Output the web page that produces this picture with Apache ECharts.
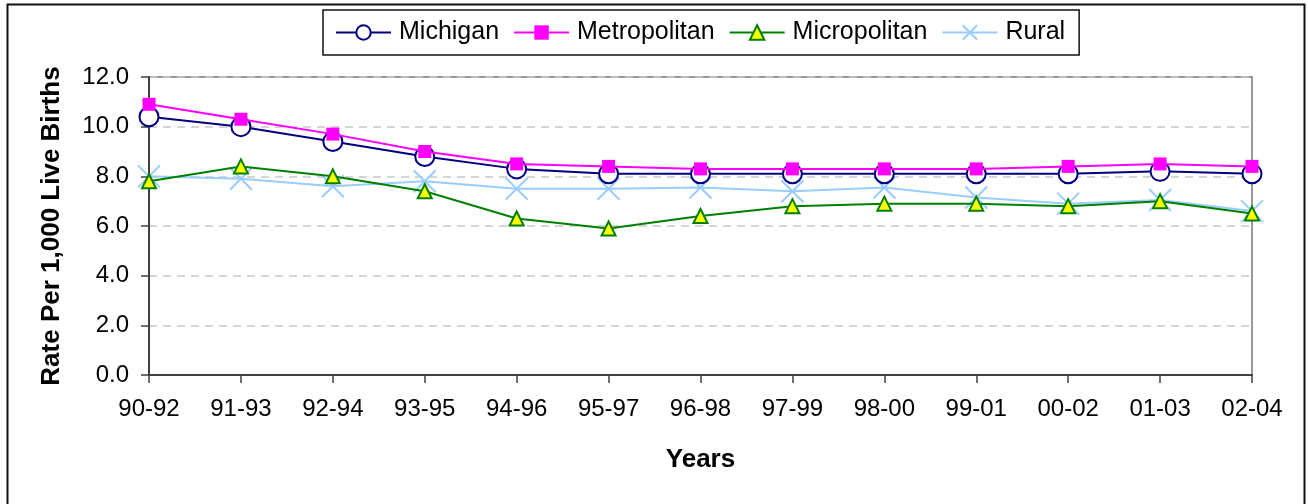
<!DOCTYPE html>
<html>
<head>
<meta charset="utf-8">
<script src="https://cdn.jsdelivr.net/npm/echarts@6/dist/echarts.min.js"></script>
<style>
html,body{margin:0;padding:0;background:#fff;}
#chart{width:1308px;height:504px;}
</style>
</head>
<body>
<div id="chart"></div>
<script>
var categories = ['90-92','91-93','92-94','93-95','94-96','95-97','96-98','97-99','98-00','99-01','00-02','01-03','02-04'];
var michigan     = [10.4, 10.0, 9.4, 8.8, 8.3, 8.1, 8.1, 8.1, 8.1, 8.1, 8.1, 8.2, 8.1];
var metropolitan = [10.9, 10.3, 9.7, 9.0, 8.5, 8.4, 8.3, 8.3, 8.3, 8.3, 8.4, 8.5, 8.4];
var micropolitan = [7.8, 8.4, 8.0, 7.4, 6.3, 5.9, 6.4, 6.8, 6.9, 6.9, 6.8, 7.0, 6.5];
var rural        = [8.0, 7.9, 7.6, 7.8, 7.5, 7.5, 7.55, 7.4, 7.55, 7.15, 6.9, 7.05, 6.6];
var yTicks = { min: 0, max: 12, interval: 2 };

var chart = echarts.init(document.getElementById('chart'), null, {renderer: 'canvas'});
var font = 'Liberation Sans, Arial, sans-serif';
var crossPath = 'path://M0,0L10,10M10,0L0,10';

chart.setOption({
  animation: false,
  backgroundColor: '#fff',
  graphic: [{
    type: 'rect',
    shape: {x: 7.5, y: 4.5, width: 1297, height: 520},
    style: {fill: 'none', stroke: '#111', lineWidth: 2},
    silent: true, z: 0
  }],
  legend: {
    top: 10, left: 323,
    padding: [10, 14, 10, 12],
    borderColor: '#111', borderWidth: 1.5,
    itemWidth: 55, itemHeight: 18, itemGap: 14,
    textStyle: {fontFamily: font, fontSize: 25, color: '#000', padding: [0, 0, 0, 3]},
    data: ['Michigan','Metropolitan','Micropolitan','Rural']
  },
  grid: {
    left: 149, right: 56, top: 77, bottom: 129,
    show: true, borderColor: '#999', borderWidth: 2, backgroundColor: 'transparent'
  },
  xAxis: {
    type: 'category', data: categories, boundaryGap: false,
    name: 'Years', nameLocation: 'middle', nameGap: 72,
    nameTextStyle: {fontFamily: font, fontSize: 26, fontWeight: 'bold', color: '#000'},
    axisLine: {lineStyle: {color: '#404040', width: 2}},
    axisTick: {show: true, length: 8, inside: false, lineStyle: {color: '#404040', width: 1.5}},
    axisLabel: {fontFamily: font, fontSize: 24, color: '#000', margin: 22, interval: 0},
    splitLine: {show: false}
  },
  yAxis: {
    type: 'value', min: yTicks.min, max: yTicks.max, interval: yTicks.interval,
    name: 'Rate Per 1,000 Live Births', nameLocation: 'middle', nameGap: 84, nameRotate: 90,
    nameTextStyle: {fontFamily: font, fontSize: 26, fontWeight: 'bold', color: '#000'},
    axisLine: {show: true, lineStyle: {color: '#404040', width: 2}},
    axisTick: {show: true, length: 8, lineStyle: {color: '#404040', width: 1.5}},
    axisLabel: {fontFamily: font, fontSize: 24, color: '#000', margin: 20,
      formatter: function (v) { return v.toFixed(1); }},
    splitLine: {show: true, lineStyle: {color: '#c8c8c8', type: [8, 6], width: 1.5}}
  },
  series: [
    {
      name: 'Michigan', type: 'line', data: michigan,
      symbol: 'emptyCircle', symbolSize: 19,
      lineStyle: {color: '#000080', width: 2},
      itemStyle: {color: '#000080', borderColor: '#000080', borderWidth: 2},
      z: 3
    },
    {
      name: 'Metropolitan', type: 'line', data: metropolitan,
      symbol: 'rect', symbolSize: 13,
      lineStyle: {color: '#FF00FF', width: 2},
      itemStyle: {color: '#FF00FF'},
      z: 4
    },
    {
      name: 'Micropolitan', type: 'line', data: micropolitan,
      symbol: 'triangle', symbolSize: 14,
      lineStyle: {color: '#008000', width: 2},
      itemStyle: {color: '#FFFF00', borderColor: '#008000', borderWidth: 2},
      z: 3
    },
    {
      name: 'Rural', type: 'line', data: rural,
      symbol: crossPath, symbolSize: 22,
      lineStyle: {color: '#99CCFF', width: 2},
      itemStyle: {color: 'rgba(0,0,0,0)', borderColor: '#99CCFF', borderWidth: 2},
      z: 2
    }
  ]
});
</script>
</body>
</html>
